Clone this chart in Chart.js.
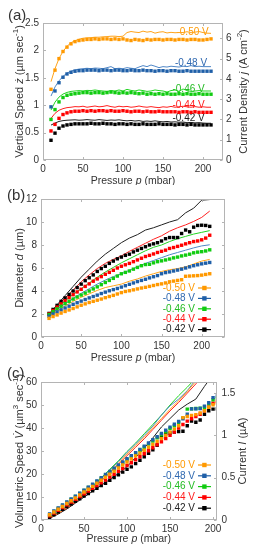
<!DOCTYPE html>
<html><head><meta charset="utf-8">
<script src="https://cdn.jsdelivr.net/npm/chart.js@4/dist/chart.umd.min.js"></script>
<style>
html,body{margin:0;padding:0;background:#fff;}
body{width:257px;height:550px;position:relative;overflow:hidden;}
.p{position:absolute;left:0;width:257px;}
canvas{display:block;}
</style></head><body>
<div class="p" style="top:0;height:185px"><canvas id="ca" width="257" height="185"></canvas></div>
<div class="p" style="top:185px;height:180px"><canvas id="cb" width="257" height="180"></canvas></div>
<div class="p" style="top:365px;height:185px"><canvas id="cc" width="257" height="185"></canvas></div>
<script>
// ---------- DATA ----------
const PRESSURE = [10,15,20,25,30,35,40,45,50,55,60,65,70,75,80,85,90,95,100,105,110,115,120,125,130,135,140,145,150,155,160,165,170,175,180,185,190,195,200,205,210];
const PRESSURE_C = [10,15,20,25,30,35,40,45,50,55,60,65,70,75,80,85,90,95,100,105,110,115,120,125,130,135,140,145,150,155,160,165,170,175,180,185,190,195,200,205];
const PRESSURE_LINE = [10,20,30,40,50,60,70,80,90,100,110,120,130,140,150,160,170,180,190,200,210];
const VOLT_LABELS = ['-0.50 V','-0.48 V','-0.46 V','-0.44 V','-0.42 V'];
const X_TICKS = [0,50,100,150,200];
const A_LEFT_TICKS = [0,0.5,1,1.5,2,2.5];
const A_RIGHT_TICKS = [0,1,2,3,4,5,6];
const B_LEFT_TICKS = [0,2,4,6,8,10,12];
const C_LEFT_TICKS = [0,10,20,30,40,50,60];
const C_RIGHT_TICKS = [0,0.5,1,1.5];

// (a) vertical speed (squares, left axis)
const SPEED_050 = [1.29,1.64,1.85,1.98,2.06,2.12,2.16,2.18,2.19,2.20, 2.20,2.21,2.20,2.21,2.21,2.20,2.21,2.20,2.21,2.19, 2.18,2.20,2.19,2.18,2.20,2.19,2.20,2.20,2.19,2.20, 2.20,2.19,2.20,2.20,2.19,2.20,2.20,2.19,2.19,2.20,2.21];
const SPEED_048 = [0.97,1.26,1.41,1.51,1.57,1.60,1.62,1.63,1.63,1.64, 1.64,1.64,1.63,1.64,1.64,1.63,1.64,1.64,1.63,1.63, 1.64,1.63,1.63,1.64,1.63,1.63,1.62,1.63,1.63,1.62, 1.63,1.63,1.62,1.62,1.63,1.62,1.62,1.62,1.62,1.62,1.62];
const SPEED_046 = [0.74,0.92,1.06,1.14,1.18,1.20,1.21,1.22,1.23,1.23, 1.22,1.23,1.23,1.22,1.23,1.24,1.23,1.22,1.23,1.22, 1.23,1.22,1.21,1.22,1.20,1.21,1.20,1.21,1.20,1.21, 1.20,1.20,1.21,1.20,1.21,1.20,1.20,1.21,1.20,1.20,1.20];
const SPEED_044 = [0.53,0.65,0.76,0.83,0.86,0.88,0.89,0.89,0.90,0.89, 0.90,0.89,0.90,0.90,0.89,0.90,0.89,0.89,0.90,0.89, 0.88,0.89,0.89,0.88,0.89,0.88,0.88,0.89,0.88,0.88, 0.88,0.88,0.87,0.88,0.88,0.87,0.88,0.87,0.87,0.87,0.87];
const SPEED_042 = [0.36,0.49,0.58,0.62,0.64,0.65,0.66,0.66,0.66,0.66, 0.67,0.66,0.66,0.67,0.66,0.66,0.65,0.66,0.66,0.65, 0.66,0.65,0.65,0.66,0.65,0.65,0.65,0.66,0.65,0.65, 0.65,0.64,0.65,0.65,0.64,0.65,0.64,0.64,0.64,0.64,0.64];
// (a) current density (lines, right axis)
const CURDENS_050 = [3.86,4.5,5.0,5.35,5.6,5.78,5.88,5.95,6.0,6.02, 6.03,6.05,6.05,6.07,6.08,6.1,6.1,6.08,6.1,6.28, 6.33,6.3,6.28,6.35,6.3,6.33,6.25,6.3,6.32,6.26, 6.29,6.27,6.28,6.28,6.32,6.27,6.3,6.33,6.28,6.25,6.24];
const CURDENS_048 = [3.15,3.6,3.9,4.12,4.28,4.38,4.44,4.48,4.5,4.52, 4.5,4.53,4.52,4.5,4.55,4.6,4.5,4.52,4.5,4.55, 4.52,4.5,4.58,4.65,4.6,4.68,4.62,4.55,4.6,4.58, 4.62,4.6,4.58,4.62,4.6,4.65,4.6,4.62,4.6,4.6,4.6];
const CURDENS_046 = [2.46,2.85,3.1,3.25,3.33,3.38,3.4,3.42,3.4,3.43, 3.42,3.45,3.42,3.4,3.38,3.42,3.4,3.45,3.4,3.48, 3.43,3.4,3.45,3.42,3.38,3.4,3.45,3.42,3.4,3.35, 3.42,3.45,3.38,3.5,3.42,3.38,3.4,3.42,3.4,3.4,3.4];
const CURDENS_044 = [2.05,2.3,2.45,2.53,2.58,2.6,2.63,2.62,2.65,2.6, 2.63,2.66,2.62,2.64,2.68,2.63,2.6,2.65,2.62,2.64, 2.6,2.62,2.66,2.62,2.6,2.63,2.6,2.58,2.62,2.6, 2.64,2.6,2.62,2.65,2.62,2.6,2.63,2.6,2.62,2.6,2.6];
const CURDENS_042 = [1.72,1.82,1.9,1.94,1.96,1.97,1.98,1.96,1.97,1.99, 1.97,1.96,1.99,1.97,1.95,1.97,1.96,1.98,1.95,1.93, 1.95,1.92,1.94,1.9,1.92,1.9,1.93,1.9,1.88,1.9, 1.87,1.88,1.86,1.87,1.84,1.85,1.83,1.84,1.82,1.81,1.81];

// (b) diameter (squares) and lines
const DIAM_050 = [1.62,1.78,1.92,2.08,2.22,2.35,2.48,2.62,2.76,2.88, 3.0,3.1,3.2,3.3,3.42,3.52,3.62,3.74,3.86,3.96, 4.02,4.1,4.18,4.26,4.32,4.4,4.48,4.56,4.62,4.7, 4.8,4.86,4.92,4.98,5.28,5.3,5.32,5.34,5.38,5.44,5.5];
const DIAM_048 = [1.8,2.0,2.18,2.36,2.52,2.68,2.84,2.98,3.12,3.26, 3.4,3.52,3.64,3.78,3.9,4.02,4.12,4.22,4.34,4.46, 4.58,4.7,4.82,4.92,5.02,5.14,5.24,5.34,5.5,5.6, 5.66,5.74,5.82,5.9,6.0,6.1,6.2,6.28,6.36,6.42,6.48];
const DIAM_046 = [1.95,2.2,2.45,2.68,2.9,3.1,3.3,3.48,3.65,3.82, 4.0,4.18,4.36,4.55,4.74,4.92,5.1,5.3,5.5,5.62, 5.74,5.9,6.05,6.2,6.3,6.32,6.45,6.55,6.62,6.7, 6.78,6.88,6.95,7.05,7.12,7.2,7.32,7.38,7.42,7.48,7.58];
const DIAM_044 = [2.0,2.3,2.6,2.88,3.15,3.42,3.68,3.92,4.15,4.4, 4.62,4.85,5.05,5.25,5.45,5.62,5.8,6.0,6.15,6.28, 6.4,6.55,6.7,6.85,7.0,7.1,7.22,7.35,7.45,7.55, 7.7,7.78,7.88,7.98,8.1,8.2,8.3,8.35,8.45,8.6,8.85];
const DIAM_042 = [2.05,2.4,2.75,3.1,3.4,3.7,4.0,4.3,4.6,4.9, 5.15,5.4,5.7,5.95,6.15,6.4,6.6,6.8,6.95,7.1, 7.2,7.4,7.55,7.7,7.85,8.0,8.1,8.2,8.35,8.55, 8.65,8.65,8.65,9.0,9.3,9.15,9.55,9.7,9.72,9.7,9.62];
const DIAM_LINE_050 = [1.8,2.25,2.7,3.1,3.45,3.75,4.05,4.3,4.45,4.6,4.85,5.05,5.3,5.5,5.7,5.85,5.95,6.1,6.35,6.6,6.75];
const DIAM_LINE_048 = [1.9,2.4,2.9,3.35,3.8,4.2,4.6,4.95,5.25,5.5,5.8,6.1,6.4,6.65,6.9,7.15,7.35,7.55,7.75,7.92,8.02];
const DIAM_LINE_046 = [1.95,2.55,3.15,3.7,4.2,4.7,5.2,5.65,6.05,6.45,6.8,7.15,7.5,7.8,8.0,8.3,8.55,8.75,8.95,9.1,9.25];
const DIAM_LINE_044 = [2.0,2.7,3.4,4.1,4.8,5.4,5.95,6.4,6.75,7.05,7.45,7.8,8.15,8.5,8.8,9.2,9.5,9.75,10.05,10.4,10.95];
const DIAM_LINE_042 = [2.0,2.8,3.6,4.4,5.2,5.9,6.6,7.2,7.7,8.2,8.6,8.9,9.3,9.5,9.75,10.0,10.2,10.8,11.2,11.9,11.95];

// (c) volumetric speed (squares, left) and current (lines, right)
const VOL_050 = [2.3,3.5,4.7,5.9,7.2,8.4,9.6,10.9,12.2,13.4, 14.6,16.0,17.3,18.6,19.9,21.2,22.6,23.9,25.2,26.5, 27.8,29.0,30.3,31.6,32.9,34.2,35.4,36.8,38.2,39.5, 41.0,44.5,45.0,45.5,45.8,46.5,47.5,49.0,50.1,50.8];
const VOL_048 = [2.6,3.9,5.2,6.5,7.8,9.1,10.4,11.7,13.0,14.3, 15.6,17.0,18.4,19.8,21.1,22.5,23.9,25.2,26.6,28.0, 29.3,30.7,32.1,33.5,34.9,36.2,37.6,39.0,40.4,41.6, 42.8,44.0,46.0,48.3,48.4,48.5,49.5,51.0,53.2,53.9];
const VOL_046 = [2.4,3.7,5.0,6.3,7.6,8.9,10.2,11.5,12.8,14.1, 15.4,16.8,18.1,19.5,20.8,22.2,23.5,24.9,26.2,27.6, 28.9,30.3,31.6,33.0,34.3,35.7,37.0,38.4,39.8,41.0, 42.5,44.4,48.2,48.4,48.5,48.6,49.0,50.5,52.3,53.0];
const VOL_044 = [1.8,3.0,4.2,5.4,6.6,7.8,9.0,10.2,11.4,12.6, 13.8,15.0,16.2,17.4,18.7,19.9,21.2,22.4,23.7,24.9, 26.2,27.5,28.8,30.1,31.4,32.7,34.0,35.4,36.8,38.2, 40.0,41.5,43.0,44.0,45.0,46.0,47.5,49.2,50.8,51.5];
const VOL_042 = [1.2,2.3,3.5,4.6,5.8,6.9,8.1,9.2,10.4,11.5, 12.7,13.8,15.0,16.0,17.3,18.5,19.6,20.8,22.0,23.1, 24.5,26.0,27.5,29.0,30.5,32.5,36.0,37.5,37.8,38.2, 38.5,38.6,41.0,43.0,42.5,43.5,46.0,47.5,48.2,48.3];
const CUR_050 = [0.03,0.08,0.15,0.22,0.30,0.38,0.47,0.57,0.67,0.78,0.88,0.98,1.09,1.20,1.31,1.41,1.52,1.64,1.74,1.84,1.94];
const CUR_048 = [0.03,0.09,0.16,0.23,0.31,0.39,0.49,0.59,0.69,0.80,0.90,1.00,1.11,1.24,1.35,1.43,1.53,1.66,1.76,1.86,1.96];
const CUR_046 = [0.03,0.09,0.16,0.23,0.31,0.40,0.50,0.60,0.70,0.81,0.91,1.02,1.13,1.24,1.36,1.47,1.57,1.68,1.78,1.88,1.98];
const CUR_044 = [0.02,0.08,0.14,0.21,0.29,0.37,0.46,0.56,0.66,0.76,0.86,0.96,1.07,1.18,1.29,1.39,1.50,1.61,1.72,1.82,1.92];
const CUR_042 = [0.02,0.07,0.13,0.20,0.27,0.34,0.41,0.48,0.55,0.63,0.74,0.85,0.97,1.10,1.20,1.30,1.37,1.43,1.58,1.72,1.82];

// ---------- STYLE ----------
const FONT = '"Liberation Sans", Arial, Helvetica, sans-serif';
const TXT = '#333333';
const FRAME = '#b4b4b4';
const SQ = ['#ff9900','#1f5fa8','#11cc11','#ff0000','#000000'];
const LN = ['#ffa31a','#4f86c6','#22d422','#ff2020','#202020'];
const LBL = ['#ff9900','#2f68b0','#22bb22','#ff1a1a','#222222'];

function pts(xs, ys){ return ys.map((y,i)=>({x:xs[i], y})); }
function sqSet(xs, ys, i, axis){ return {data:pts(xs,ys), showLine:false, pointStyle:'rect', pointRadius:2.4, pointBorderWidth:0, backgroundColor:SQ[i], borderColor:SQ[i], yAxisID:axis||'y', order:1}; }
function lnSet(xs, ys, i, axis){ return {data:pts(xs,ys), showLine:true, pointRadius:0, borderWidth:1, borderColor:LN[i], backgroundColor:LN[i], tension:0, yAxisID:axis||'y', order:2}; }

function axis(pos, min, max, vals, size, pad){
  return {type:'linear', position:pos, min, max,
    grid:{display:false, drawTicks:false}, border:{display:false},
    ticks:{color:TXT, font:{family:FONT,size:10}, padding:pad, autoSkip:false, maxRotation:0, callback:v=>String(v)},
    afterBuildTicks:s=>{ s.ticks = vals.map(v=>({value:v})); },
    afterFit:s=>{ if(pos==='bottom') s.height=size; else s.width=size; }
  };
}

function drawSegs(ctx, segs, cx, cy, rot, size){
  ctx.save(); ctx.translate(cx, cy); if(rot) ctx.rotate(rot);
  const parts = segs.map(s=>{
    const sup = s[1]==='s';
    const f = (s[1]==='i'?'italic ':'') + (sup? size*0.72 : size) + 'px ' + FONT;
    ctx.font = f;
    return {t:s[0], f, w:ctx.measureText(s[0]).width, dy: sup? -size*0.38 : 0};
  });
  const tot = parts.reduce((a,p)=>a+p.w,0);
  let x = -tot/2; ctx.textBaseline='middle'; ctx.textAlign='left'; ctx.fillStyle=TXT;
  parts.forEach(p=>{ ctx.font=p.f; ctx.fillText(p.t, x, p.dy); x+=p.w; });
  ctx.restore();
}

const deco = {
  id:'deco',
  beforeDatasetsDraw(chart, args, o){
    if(!o.inlineLabels) return;
    const ctx = chart.ctx; ctx.save();
    ctx.font = '10px ' + FONT; ctx.textAlign='center'; ctx.textBaseline='middle';
    o.inlineLabels.forEach((l,i)=>{
      ctx.fillStyle = LBL[i];
      ctx.fillText(VOLT_LABELS[i], chart.scales.x.getPixelForValue(l[0]), chart.scales.y.getPixelForValue(l[1]));
    });
    ctx.restore();
  },
  afterDraw(chart, args, o){
    const ctx = chart.ctx, a = chart.chartArea;
    const L = Math.round(a.left)+0.5, R = Math.round(a.right)-0.5, T = Math.round(a.top)+0.5, B = Math.round(a.bottom)-0.5;
    ctx.save();
    ctx.strokeStyle = FRAME; ctx.lineWidth = 1;
    ctx.strokeRect(L, T, R-L, B-T);
    ctx.beginPath();
    const tl = 2.5;
    const sx = chart.scales.x;
    sx.ticks.forEach(t=>{ const p = Math.round(sx.getPixelForValue(t.value))+0.5; ctx.moveTo(p,B); ctx.lineTo(p,B-tl); ctx.moveTo(p,T); ctx.lineTo(p,T+tl); });
    const sy = chart.scales.y;
    sy.ticks.forEach(t=>{ const p = Math.round(sy.getPixelForValue(t.value))+0.5; ctx.moveTo(L,p); ctx.lineTo(L+tl,p); if(!chart.scales.y2){ ctx.moveTo(R,p); ctx.lineTo(R-tl,p);} });
    if(chart.scales.y2){ const s2 = chart.scales.y2; s2.ticks.forEach(t=>{ const p = Math.round(s2.getPixelForValue(t.value))+0.5; ctx.moveTo(R,p); ctx.lineTo(R-tl,p); }); }
    ctx.stroke();
    // panel letter
    ctx.fillStyle = TXT; ctx.font = '15px ' + FONT; ctx.textAlign='left'; ctx.textBaseline='middle';
    ctx.fillText(o.letter[0], o.letter[1], o.letter[2]);
    ctx.restore();
    const cyMid = (a.top + a.bottom)/2;
    drawSegs(ctx, o.xTitle, (a.left+a.right)/2, o.xTitleY, 0, 10.5);
    drawSegs(ctx, o.yTitle, o.yTitleX, cyMid, -Math.PI/2, 11);
    if(o.y2Title) drawSegs(ctx, o.y2Title, o.y2TitleX, cyMid, -Math.PI/2, 11);
    if(o.legend){
      ctx.save(); ctx.font = '10px ' + FONT; ctx.textBaseline='middle';
      VOLT_LABELS.forEach((lab,i)=>{
        const y = o.legend.y + i*o.legend.dy;
        ctx.textAlign='right'; ctx.fillStyle = LBL[i];
        ctx.fillText(lab, o.legend.x, y);
        ctx.strokeStyle = SQ[i]; ctx.lineWidth = 1.2;
        ctx.beginPath(); ctx.moveTo(o.legend.x+3, y); ctx.lineTo(o.legend.x+16, y); ctx.stroke();
        ctx.fillStyle = SQ[i]; ctx.fillRect(o.legend.x+7.2, y-2.2, 4.4, 4.4);
      });
      ctx.restore();
    }
  }
};

const XT = [['Pressure ','n'],['p','i'],[' (mbar)','n']];
const baseOpts = (scales, padding, decoOpts) => ({
  responsive:false, animation:false, events:[],
  layout:{padding},
  scales,
  plugins:{legend:{display:false}, tooltip:{enabled:false}, deco:decoOpts}
});

// ---------- (a) ----------
new Chart(document.getElementById('ca'), {
  type:'scatter',
  data:{datasets:[
    sqSet(PRESSURE,SPEED_050,0), sqSet(PRESSURE,SPEED_048,1), sqSet(PRESSURE,SPEED_046,2), sqSet(PRESSURE,SPEED_044,3), sqSet(PRESSURE,SPEED_042,4),
    lnSet(PRESSURE,CURDENS_050,0,'y2'), lnSet(PRESSURE,CURDENS_048,1,'y2'), lnSet(PRESSURE,CURDENS_046,2,'y2'), lnSet(PRESSURE,CURDENS_044,3,'y2'), lnSet(PRESSURE,CURDENS_042,4,'y2')
  ]},
  options: baseOpts({
    x: axis('bottom',0,225,X_TICKS,25,3),
    y: axis('left',0,2.5,A_LEFT_TICKS,43,4),
    y2: axis('right',0,6.75,A_RIGHT_TICKS,34,3)
  }, {top:23,left:0,right:0,bottom:0}, {
    letter:['(a)',8,16],
    xTitle:XT, xTitleY:181.5,
    yTitle:[['Vertical Speed ','n'],['ż','i'],[' (µm sec','n'],['-1','s'],[')','n']], yTitleX:20,
    y2Title:[['Current Density ','n'],['j','i'],[' (A cm','n'],['-2','s'],[')','n']], y2TitleX:244,
    inlineLabels:[[187,2.33],[185,1.76],[182,1.29],[182,0.99],[182,0.76]]
  }),
  plugins:[deco]
});

// ---------- (b) ----------
new Chart(document.getElementById('cb'), {
  type:'scatter',
  data:{datasets:[
    sqSet(PRESSURE,DIAM_050,0), sqSet(PRESSURE,DIAM_048,1), sqSet(PRESSURE,DIAM_046,2), sqSet(PRESSURE,DIAM_044,3), sqSet(PRESSURE,DIAM_042,4),
    lnSet(PRESSURE_LINE,DIAM_LINE_050,0), lnSet(PRESSURE_LINE,DIAM_LINE_048,1), lnSet(PRESSURE_LINE,DIAM_LINE_046,2), lnSet(PRESSURE_LINE,DIAM_LINE_044,3), lnSet(PRESSURE_LINE,DIAM_LINE_042,4)
  ]},
  options: baseOpts({
    x: axis('bottom',0,229,X_TICKS,28,3),
    y: axis('left',0,12,B_LEFT_TICKS,41,4)
  }, {top:14,left:0,right:32,bottom:0}, {
    letter:['(b)',7,11],
    xTitle:XT, xTitleY:173.5,
    yTitle:[['Diameter ','n'],['d','i'],[' (µm)','n']], yTitleX:20,
    legend:{x:195, y:103, dy:10.4}
  }),
  plugins:[deco]
});

// ---------- (c) ----------
new Chart(document.getElementById('cc'), {
  type:'scatter',
  data:{datasets:[
    sqSet(PRESSURE_C,VOL_050,0), sqSet(PRESSURE_C,VOL_048,1), sqSet(PRESSURE_C,VOL_046,2), sqSet(PRESSURE_C,VOL_044,3), sqSet(PRESSURE_C,VOL_042,4),
    lnSet(PRESSURE_LINE,CUR_050,0,'y2'), lnSet(PRESSURE_LINE,CUR_048,1,'y2'), lnSet(PRESSURE_LINE,CUR_046,2,'y2'), lnSet(PRESSURE_LINE,CUR_044,3,'y2'), lnSet(PRESSURE_LINE,CUR_042,4,'y2')
  ]},
  options: baseOpts({
    x: axis('bottom',0,204,X_TICKS,30,3),
    y: axis('left',0,60,C_LEFT_TICKS,41,4),
    y2: axis('right',0,1.632,C_RIGHT_TICKS,40.5,5)
  }, {top:17,left:0,right:0,bottom:0}, {
    letter:['(c)',7,9],
    xTitle:XT, xTitleY:174.5,
    yTitle:[['Volumetric Speed ','n'],['V̇','i'],[' (µm','n'],['3','s'],[' sec','n'],['-1','s'],[')','n']], yTitleX:20,
    y2Title:[['Current ','n'],['I','i'],[' (µA)','n']], y2TitleX:243,
    legend:{x:195, y:100, dy:10.8}
  }),
  plugins:[deco]
});
</script>
</body></html>
